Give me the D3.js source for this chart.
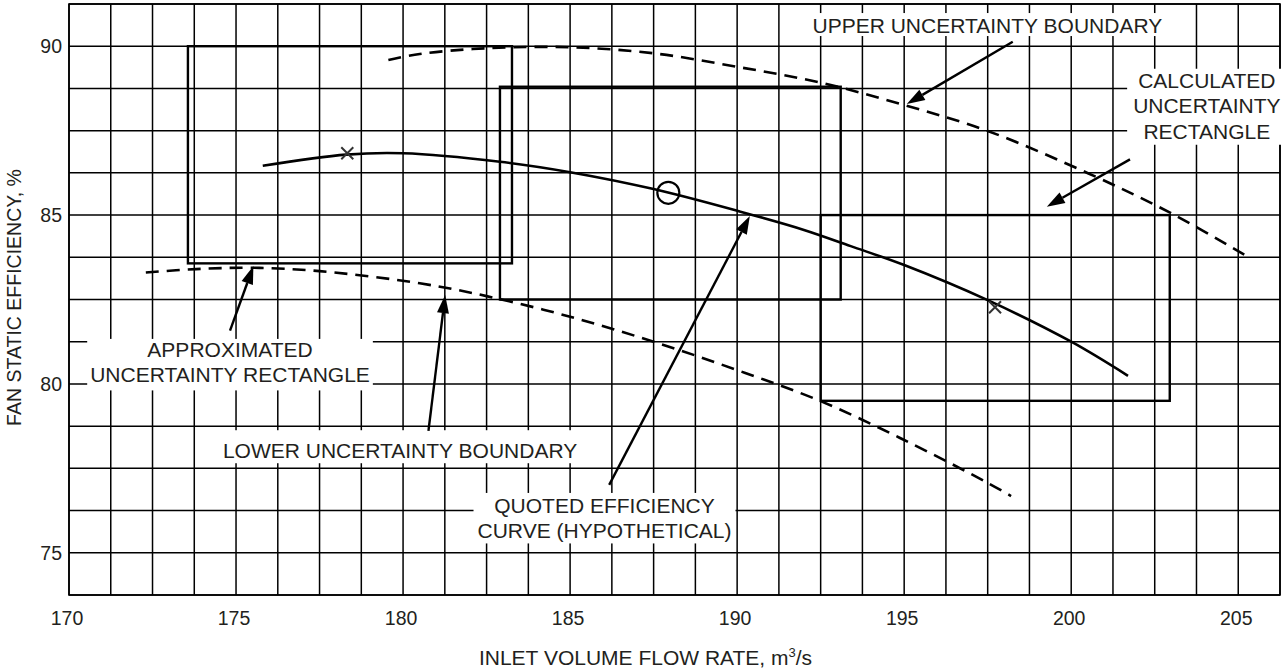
<!DOCTYPE html>
<html>
<head>
<meta charset="utf-8">
<script src="https://cdn.jsdelivr.net/npm/d3@7"></script>
<style>
body { margin:0; background:#fff; }
svg { display:block; font-family:"Liberation Sans", Arial, sans-serif; }
.grid line { stroke:#000; stroke-width:1.5; }
.tick-label { fill:#231f20; font-size:19.5px; }
.note { fill:#231f20; font-size:21px; }
</style>
</head>
<body>
<svg></svg>
<script>
//tick labels on the two axes
var xTicks = [170,175,180,185,190,195,200,205];
var yTicks = [75,80,85,90];

//quoted efficiency curve (flow rate, efficiency)
var quotedCurve = [[175.8,86.46],[178.3,86.79],[180.0,86.83],[182.9,86.58],[185.0,86.27],
                   [187.5,85.77],[190.1,85.1],[192.0,84.56],[193.4,84.08],[195.0,83.52],
                   [197.5,82.48],[200.0,81.25],[201.7,80.24]];

//upper and lower uncertainty boundaries (dashed)
var upperBoundary = [[179.56,89.59],[180.5,89.77],[182.5,89.94],[185.0,89.97],[187.5,89.79],
                     [190.0,89.39],[192.5,88.92],[195.0,88.26],[197.5,87.49],[200.5,86.24],
                     [203.0,85.05],[205.35,83.73]];
var lowerBoundary = [[172.3,83.3],[173.8,83.4],[175.5,83.44],[177.5,83.34],[180.5,82.98],
                     [182.5,82.6],[185.0,81.99],[187.5,81.25],[190.0,80.41],[192.5,79.49],
                     [195.0,78.34],[197.5,77.07],[198.2,76.68]];

//uncertainty rectangles: [x0,x1,y0,y1]
var rectangles = [[173.56,183.26,83.57,90.0],
                  [182.9,193.1,82.5,88.8],
                  [192.5,202.95,79.5,85.0]];

//measured points
var crossPoints = [[178.33,86.83],[197.72,82.27]];
var circlePoints = [[187.94,85.66]];

//annotation texts and where their arrows point (data units)
var notes = [
  {lines:["UPPER UNCERTAINTY BOUNDARY"], at:[197.49,90.39], pad:[12,1,-1],
   from:[198.25,90.13], tip:[195.08,88.29]},
  {lines:["CALCULATED","UNCERTAINTY","RECTANGLE"], at:[204.06,88.77], pad:[6,0,2],
   from:[201.76,86.65], tip:[199.27,85.25]},
  {lines:["APPROXIMATED","UNCERTAINTY RECTANGLE"], at:[174.82,80.8], pad:[3,-1,4],
   from:[174.82,81.58], tip:[175.52,83.49]},
  {lines:["LOWER UNCERTAINTY BOUNDARY"], at:[179.91,77.8], pad:[8,9,1],
   from:[180.76,78.61], tip:[181.26,82.63]},
  {lines:["QUOTED EFFICIENCY","CURVE (HYPOTHETICAL)"], at:[186.03,76.18], pad:[4,1,1],
   from:[186.17,77.01], tip:[190.38,84.97]}
];

var makeTranslateString = function(x,y)
{
    return "translate("+x+","+y+")";
}

//grid of thin lines every 1.25 units
var drawGrid = function(target,xScale,yScale)
{
    var xs = d3.range(0,30).map(function(i){return 170+i*1.25;});
    var ys = d3.range(0,15).map(function(i){return 73.75+i*1.25;});
    var grid = target.append("g").classed("grid",true);
    grid.selectAll("line.v")
        .data(xs)
        .enter()
        .append("line")
        .attr("x1",function(d){return xScale(d);})
        .attr("x2",function(d){return xScale(d);})
        .attr("y1",yScale(73.75))
        .attr("y2",yScale(91.25));
    grid.selectAll("line.h")
        .data(ys)
        .enter()
        .append("line")
        .attr("y1",function(d){return yScale(d);})
        .attr("y2",function(d){return yScale(d);})
        .attr("x1",xScale(170))
        .attr("x2",xScale(206.25));
    grid.append("rect")
        .attr("x",xScale(170))
        .attr("y",yScale(91.25))
        .attr("width",xScale(206.25)-xScale(170))
        .attr("height",yScale(73.75)-yScale(91.25))
        .attr("fill","none")
        .attr("stroke","#000")
        .attr("stroke-width",1.6);
}

var drawMarks = function(target,xScale,yScale)
{
    var line = d3.line()
        .x(function(d){return xScale(d[0]);})
        .y(function(d){return yScale(d[1]);})
        .curve(d3.curveCatmullRom.alpha(0.5));

    target.selectAll("rect.unc")
        .data(rectangles)
        .enter()
        .append("rect")
        .classed("unc",true)
        .attr("x",function(r){return xScale(r[0]);})
        .attr("y",function(r){return yScale(r[3]);})
        .attr("width",function(r){return xScale(r[1])-xScale(r[0]);})
        .attr("height",function(r){return yScale(r[2])-yScale(r[3]);})
        .attr("fill","none")
        .attr("stroke","#000")
        .attr("stroke-width",2.4);

    target.append("path")
        .datum(quotedCurve)
        .attr("d",line)
        .attr("fill","none")
        .attr("stroke","#000")
        .attr("stroke-width",2.6);

    target.selectAll("path.bound")
        .data([upperBoundary,lowerBoundary])
        .enter()
        .append("path")
        .classed("bound",true)
        .attr("d",line)
        .attr("fill","none")
        .attr("stroke","#000")
        .attr("stroke-width",2.6)
        .attr("stroke-dasharray","13,8");

    target.selectAll("circle.pt")
        .data(circlePoints)
        .enter()
        .append("circle")
        .classed("pt",true)
        .attr("cx",function(d){return xScale(d[0]);})
        .attr("cy",function(d){return yScale(d[1]);})
        .attr("r",11)
        .attr("fill","none")
        .attr("stroke","#000")
        .attr("stroke-width",2.2);

    target.selectAll("path.cross")
        .data(crossPoints)
        .enter()
        .append("path")
        .classed("cross",true)
        .attr("d",function(d)
        {
            var x = xScale(d[0]), y = yScale(d[1]), s = 6;
            return "M"+(x-s)+","+(y-s)+"L"+(x+s)+","+(y+s)+
                   "M"+(x-s)+","+(y+s)+"L"+(x+s)+","+(y-s);
        })
        .attr("stroke","#333")
        .attr("stroke-width",2);
}

//labels with a white box behind them, then the arrows
var drawNotes = function(target,xScale,yScale)
{
    var lineGap = 25.5;
    notes.forEach(function(n)
    {
        var g = target.append("g");
        var box = g.append("rect").attr("fill","#fff");
        var text = g.append("text")
            .classed("note",true)
            .attr("text-anchor","middle");
        n.lines.forEach(function(s,i)
        {
            text.append("tspan")
                .attr("x",xScale(n.at[0]))
                .attr("y",yScale(n.at[1])+i*lineGap)
                .text(s);
        });
        var bb = text.node().getBBox();
        box.attr("x",bb.x-n.pad[0])
           .attr("y",bb.y-n.pad[1])
           .attr("width",bb.width+2*n.pad[0])
           .attr("height",bb.height+n.pad[1]+n.pad[2]);
    });

    notes.forEach(function(n)
    {
        var x1 = xScale(n.from[0]), y1 = yScale(n.from[1]);
        var x2 = xScale(n.tip[0]), y2 = yScale(n.tip[1]);
        var a = Math.atan2(y2-y1,x2-x1);
        var len = 18, half = 6;
        var bx = x2-len*Math.cos(a), by = y2-len*Math.sin(a);
        target.append("line")
            .attr("x1",x1).attr("y1",y1)
            .attr("x2",bx).attr("y2",by)
            .attr("stroke","#000")
            .attr("stroke-width",2.4);
        target.append("path")
            .attr("d","M"+x2+","+y2+
                      "L"+(bx+half*Math.sin(a))+","+(by-half*Math.cos(a))+
                      "L"+(bx-half*Math.sin(a))+","+(by+half*Math.cos(a))+"Z")
            .attr("fill","#000");
    });
}

var drawAxes = function(svg,xScale,yScale)
{
    svg.append("g")
        .selectAll("text")
        .data(xTicks)
        .enter()
        .append("text")
        .classed("tick-label",true)
        .attr("text-anchor","middle")
        .attr("x",function(d){return xScale(d)-2;})
        .attr("y",625)
        .text(function(d){return d;});

    svg.append("g")
        .selectAll("text")
        .data(yTicks)
        .enter()
        .append("text")
        .classed("tick-label",true)
        .attr("text-anchor","end")
        .attr("x",62)
        .attr("y",function(d){return yScale(d)+7;})
        .text(function(d){return d;});

    var xt = svg.append("text")
        .classed("note",true)
        .attr("text-anchor","middle")
        .attr("x",645.5)
        .attr("y",665);
    xt.append("tspan").text("INLET VOLUME FLOW RATE, m");
    xt.append("tspan").attr("dy",-8).attr("font-size","13px").text("3");
    xt.append("tspan").attr("dy",8).text("/s");

    svg.append("g")
        .attr("transform",makeTranslateString(21,297.5))
        .append("text")
        .classed("tick-label",true)
        .attr("text-anchor","middle")
        .attr("transform","rotate(270)")
        .text("FAN STATIC EFFICIENCY, %");
}

var initGraph = function()
{
    var screen = {width:1281,height:671};
    var svg = d3.select("svg")
        .attr("width",screen.width)
        .attr("height",screen.height);

    var xScale = d3.scaleLinear()
        .domain([170,206.25])
        .range([69,1280]);
    var yScale = d3.scaleLinear()
        .domain([73.75,91.25])
        .range([595,4]);

    var plot = svg.append("g");
    drawGrid(plot,xScale,yScale);
    drawMarks(plot,xScale,yScale);
    drawNotes(plot,xScale,yScale);
    drawAxes(svg,xScale,yScale);
}

initGraph();
</script>
</body>
</html>
